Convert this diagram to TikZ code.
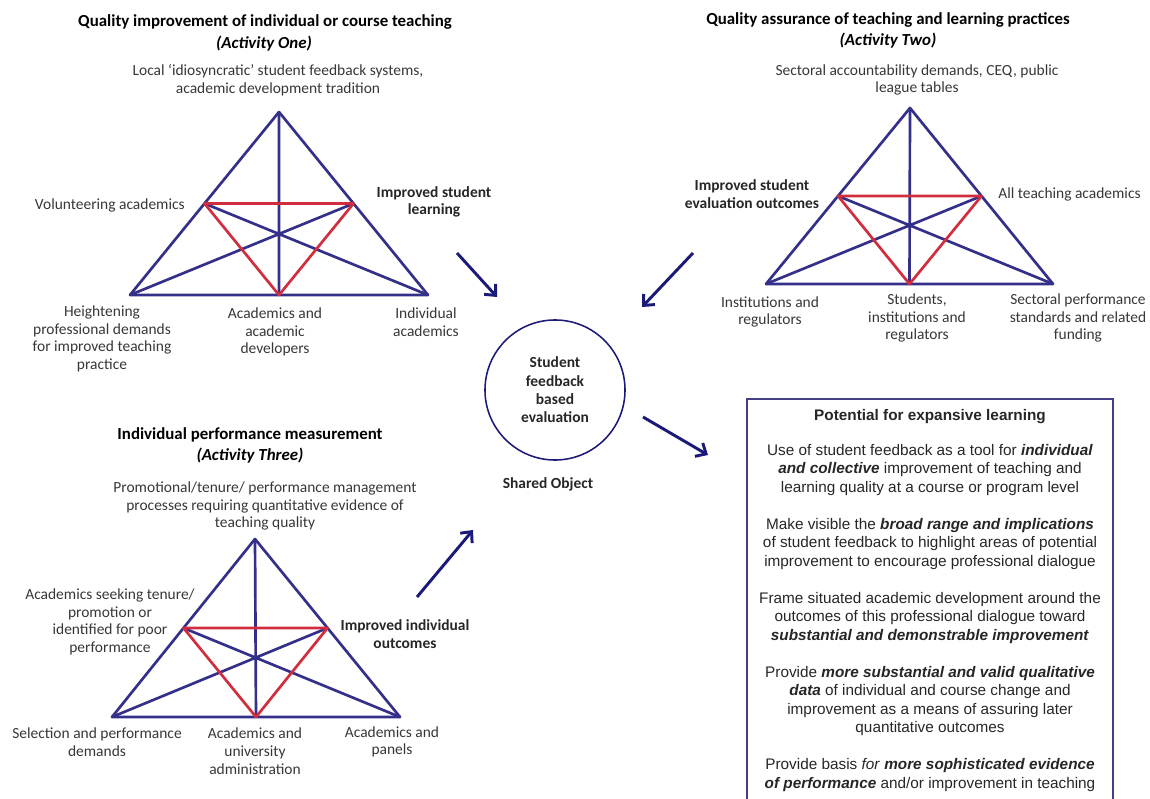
\documentclass[tikz,border=0pt]{standalone}
\usepackage{fontspec}
\setmainfont{Carlito}
\newfontfamily\arialfont{Liberation Sans}
\usetikzlibrary{arrows.meta,calc}

\definecolor{triblue}{RGB}{52,48,138}
\definecolor{trired}{RGB}{210,45,60}
\definecolor{arrowblue}{RGB}{28,26,120}
\definecolor{textgray}{RGB}{55,55,55}
\newcommand{\bfit}[1]{\textbf{\textit{#1}}}
\tikzstyle{txt} = [align=center, text=textgray, inner sep=0pt, font=\fontsize{11}{12.6}\selectfont]

\begin{document}
\begin{tikzpicture}[x=0.025cm,y=-0.025cm,
		tri/.style = {triblue, line width=1.9pt, line join=round},
		inner/.style = {trired, line width=1.9pt, line join=round},
		hd/.style = {txt, text=black, font=\fontsize{12}{13}\selectfont\bfseries},
		sub/.style = {txt, text=black, font=\fontsize{12}{13}\selectfont\bfseries\itshape},
		strong/.style = {txt, text=black!85, font=\fontsize{11}{12.6}\selectfont\bfseries},
		obj/.style = {draw=arrowblue, line width=1.1pt, circle, minimum size=3.5cm, inner sep=0pt, align=center, text=black!85, font=\fontsize{11}{13}\selectfont\bfseries},
		arr/.style = {arrowblue, line width=2.1pt, -{Straight Barb[length=6pt,width=11pt]}},
		boxline/.style = {draw=triblue!80!gray, line width=1pt},
		bx/.style = {align=center, inner sep=0pt, text=black!85, font=\arialfont\fontsize{10.9}{13.1}\selectfont}]
	\useasboundingbox (0,0) rectangle (1150,799);

	% triangles
	\coordinate (t1-a) at (279,112);
	\coordinate (t1-b) at (130,295);
	\coordinate (t1-c) at (428,295);
	\coordinate (t2-a) at (910,108);
	\coordinate (t2-b) at (766,284);
	\coordinate (t2-c) at (1053,284);
	\coordinate (t3-a) at (255,539);
	\coordinate (t3-b) at (112,717);
	\coordinate (t3-c) at (400,717);
	\foreach \t in {t1,t2,t3}{
		\coordinate (\t-ab) at ($(\t-a)!.5!(\t-b)$);
		\coordinate (\t-ac) at ($(\t-a)!.5!(\t-c)$);
		\coordinate (\t-bc) at ($(\t-b)!.5!(\t-c)$);
		\draw[tri] (\t-a) -- (\t-b) -- (\t-c) -- cycle;
		\draw[tri] (\t-a) -- (\t-bc) (\t-b) -- (\t-ac) (\t-c) -- (\t-ab);
		\draw[inner] (\t-ab) -- (\t-ac) -- (\t-bc) -- cycle;
	}

	% activity one
	\node (t1title) [hd] at (265,22) {Quality improvement of individual or course teaching};
	\node (t1sub) [sub] at (264,44) {(Activity One)};
	\node (t1top) [txt] at (278,80) {Local `idiosyncratic' student feedback systems,\\academic development tradition};
	\node (t1left) [txt,anchor=east] at (185,205) {Volunteering academics};
	\node (t1right) [strong] at (434,202) {Improved student\\learning};
	\node (t1bl) [txt] at (102,339) {Heightening\\professional demands\\for improved teaching\\practice};
	\node (t1bm) [txt] at (275,332) {Academics and\\academic\\developers};
	\node (t1br) [txt] at (426,322) {Individual\\academics};

	% activity two
	\node (t2title) [hd] at (888,20) {Quality assurance of teaching and learning practices};
	\node (t2sub) [sub] at (888,41) {(Activity Two)};
	\node (t2top) [txt] at (917,80) {Sectoral accountability demands, CEQ, public\\league tables};
	\node (t2left) [strong] at (752,194) {Improved student\\evaluation outcomes};
	\node (t2right) [txt,anchor=west] at (998,194) {All teaching academics};
	\node (t2bl) [txt] at (770,312) {Institutions and\\regulators};
	\node (t2bm) [txt] at (917,318) {Students,\\institutions and\\regulators};
	\node (t2br) [txt] at (1078,318) {Sectoral performance\\standards and related\\funding};

	% activity three
	\node (t3title) [hd] at (250,435) {Individual performance measurement};
	\node (t3sub) [sub] at (250,456) {(Activity Three)};
	\node (t3top) [txt] at (265,506) {Promotional/tenure/ performance management\\processes requiring quantitative evidence of\\teaching quality};
	\node (t3left) [txt] at (110,622) {Academics seeking tenure/\\promotion or\\identified for poor\\performance};
	\node (t3right) [strong] at (405,634) {Improved individual\\outcomes};
	\node (t3bl) [txt] at (97,742) {Selection and performance\\demands};
	\node (t3bm) [txt] at (255,751) {Academics and\\university\\administration};
	\node (t3br) [txt] at (392,742) {Academics and\\panels};

	% shared object
	\node (obj) [obj] at (555,390) {Student\\feedback\\based\\evaluation};
	\node (objname) [strong] at (548,484) {Shared Object};

	% arrows
	\coordinate (s1) at (457,253); \coordinate (e1) at (497,297);
	\coordinate (s2) at (693,253); \coordinate (e2) at (642,307);
	\coordinate (s3) at (643,417); \coordinate (e3) at (708,455);
	\coordinate (s4) at (417,597); \coordinate (e4) at (473,530);
	\draw[arr] (s1) -- (e1);
	\draw[arr] (s2) -- (e2);
	\draw[arr] (s3) -- (e3);
	\draw[arr] (s4) -- (e4);

	% expansive learning box
	\coordinate (bx-bl) at (747,799);
	\coordinate (bx-tr) at (1113,399);
	\coordinate (bx-br) at (1113,799);
	\draw[boxline] (bx-bl) |- (bx-tr) -- (bx-br);
	\node (bxtitle) [bx,font=\arialfont\fontsize{10.9}{13.1}\selectfont\bfseries] at (930,417) {Potential for expansive learning};
	\node (p1) [bx] at (930,470) {Use of student feedback as a tool for \bfit{individual}\\\bfit{and collective} improvement of teaching and\\learning quality at a course or program level};
	\node (p2) [bx] at (930,544) {Make visible the \bfit{broad range and implications}\\of student feedback to highlight areas of potential\\improvement to encourage professional dialogue};
	\node (p3) [bx] at (930,618) {Frame situated academic development around the\\outcomes of this professional dialogue toward\\\bfit{substantial and demonstrable improvement}};
	\node (p4) [bx] at (930,701) {Provide \bfit{more substantial and valid qualitative}\\\bfit{data} of individual and course change and\\improvement as a means of assuring later\\quantitative outcomes};
	\node (p5) [bx] at (930,775) {Provide basis \textit{for} \bfit{more sophisticated evidence}\\\bfit{of performance} and/or improvement in teaching};
\end{tikzpicture}
\end{document}
